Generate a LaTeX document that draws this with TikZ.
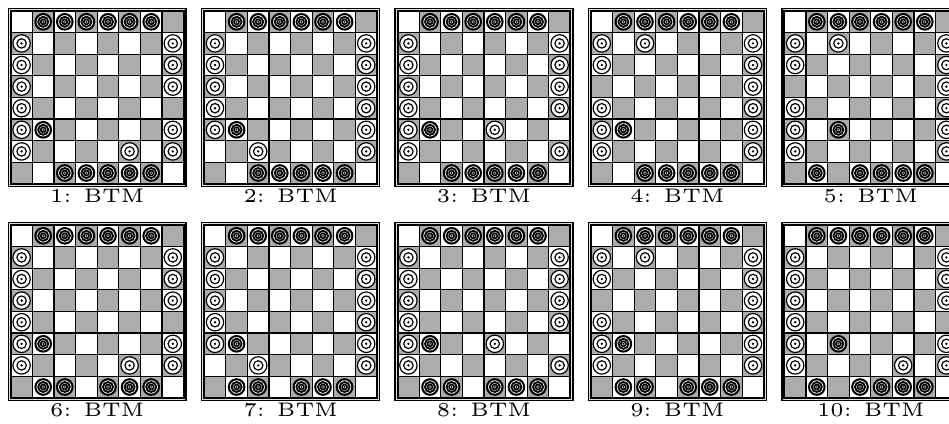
\documentclass[tikz,border=0pt]{standalone}
\usepackage{tikz}
\usetikzlibrary{calc}

\tikzset{
  lsq/.style={fill=white,draw=black,line width=0.3pt},
  dsq/.style={fill=gray!65,draw=black,line width=0.3pt},
  frame/.style={fill=gray!25,draw=black,line width=0.35pt},
  edge/.style={draw=black,line width=0.5pt},
  lab/.style={anchor=base,inner sep=0pt,font=\fontsize{5.3}{6}\selectfont},
  wman/.pic={
    \draw[fill=white,line width=0.32pt] (0,0) circle (8.7);
    \draw[line width=0.32pt] (0,0) circle (4.7);
    \fill (0,0) circle (1.3);
  },
  bman/.pic={
    \draw[fill=white,line width=0.55pt] (0,0) circle (7.8);
    \draw[line width=0.5pt] (0,0) circle (5.0);
    \draw[line width=0.45pt] (0,0) circle (2.5);
    \fill (0,0) circle (1.0);
  }
}

% #1,#2: top left corner of the grid, #3: number, #4: white men, #5: black men
\newcommand{\drawboard}[5]{%
  \begin{scope}[shift={(#1,#2)}]
    \draw[frame] (-2.5,-2.5) rectangle (175.3,175.3);
    \foreach \c in {1,...,8}
      \foreach \r in {1,...,8} {
        \pgfmathtruncatemacro\s{\c+\r}
        \ifodd\s
          \draw[dsq] ({(\c-1)*21.6},{(\r-1)*21.6}) rectangle ++(21.6,21.6);
        \else
          \draw[lsq] ({(\c-1)*21.6},{(\r-1)*21.6}) rectangle ++(21.6,21.6);
        \fi
      }
    \draw[edge] (0,0) rectangle (172.8,172.8);
    \foreach \c/\r in {#4}
      \pic at ({(\c-0.5)*21.6},{(\r-0.5)*21.6}) {wman};
    \foreach \c/\r in {#5}
      \pic at ({(\c-0.5)*21.6},{(\r-0.5)*21.6}) {bman};
    \node[lab] (lab#3) at (86.4,191) {#3: BTM};
  \end{scope}}

\begin{document}
\begin{tikzpicture}[x=0.27pt,y=-0.27pt]
  \useasboundingbox (0,0) rectangle (949,423);
  \clip (0,0) rectangle (949,423);

  % top row
  \drawboard{10.8}{11}{1}
    {1/2,1/3,1/4,1/5,1/6,1/7,8/2,8/3,8/4,8/6,8/7,6/7}
    {2/1,3/1,4/1,5/1,6/1,7/1,2/6,3/8,4/8,5/8,6/8,7/8}
  \drawboard{204.2}{11}{2}
    {1/2,1/3,1/4,1/5,1/6,8/2,8/3,8/4,8/5,8/6,8/7,3/7}
    {2/1,3/1,4/1,5/1,6/1,7/1,2/6,3/8,4/8,5/8,6/8,7/8}
  \drawboard{397.6}{11}{3}
    {1/2,1/3,1/4,1/5,1/6,1/7,8/2,8/3,8/4,8/5,8/7,5/6}
    {2/1,3/1,4/1,5/1,6/1,7/1,2/6,3/8,4/8,5/8,6/8,7/8}
  \drawboard{591.0}{11}{4}
    {1/2,1/3,1/5,1/6,1/7,8/2,8/3,8/4,8/5,8/6,8/7,3/2}
    {2/1,3/1,4/1,5/1,6/1,7/1,2/6,3/8,4/8,5/8,6/8,7/8}
  \drawboard{784.4}{11}{5}
    {1/2,1/3,1/5,1/6,1/7,8/2,8/3,8/4,8/5,8/6,8/7,3/2}
    {2/1,3/1,4/1,5/1,6/1,7/1,3/6,2/8,4/8,5/8,6/8,7/8}

  % bottom row
  \drawboard{10.8}{225}{6}
    {1/2,1/3,1/4,1/5,1/6,1/7,8/2,8/3,8/4,8/6,8/7,6/7}
    {2/1,3/1,4/1,5/1,6/1,7/1,2/6,2/8,3/8,5/8,6/8,7/8}
  \drawboard{204.2}{225}{7}
    {1/2,1/3,1/4,1/5,1/6,8/2,8/3,8/4,8/5,8/6,8/7,3/7}
    {2/1,3/1,4/1,5/1,6/1,7/1,2/6,2/8,3/8,5/8,6/8,7/8}
  \drawboard{397.6}{225}{8}
    {1/2,1/3,1/4,1/5,1/6,1/7,8/2,8/3,8/4,8/5,8/7,5/6}
    {2/1,3/1,4/1,5/1,6/1,7/1,2/6,2/8,3/8,5/8,6/8,7/8}
  \drawboard{591.0}{225}{9}
    {1/2,1/3,1/5,1/6,1/7,8/2,8/3,8/4,8/5,8/6,8/7,3/2}
    {2/1,3/1,4/1,5/1,6/1,7/1,2/6,2/8,3/8,5/8,6/8,7/8}
  \drawboard{784.4}{225}{10}
    {1/2,1/3,1/4,1/5,1/6,1/7,8/2,8/3,8/4,8/6,8/7,6/7}
    {2/1,3/1,4/1,5/1,6/1,7/1,3/6,2/8,4/8,5/8,6/8,7/8}
\end{tikzpicture}
\end{document}
